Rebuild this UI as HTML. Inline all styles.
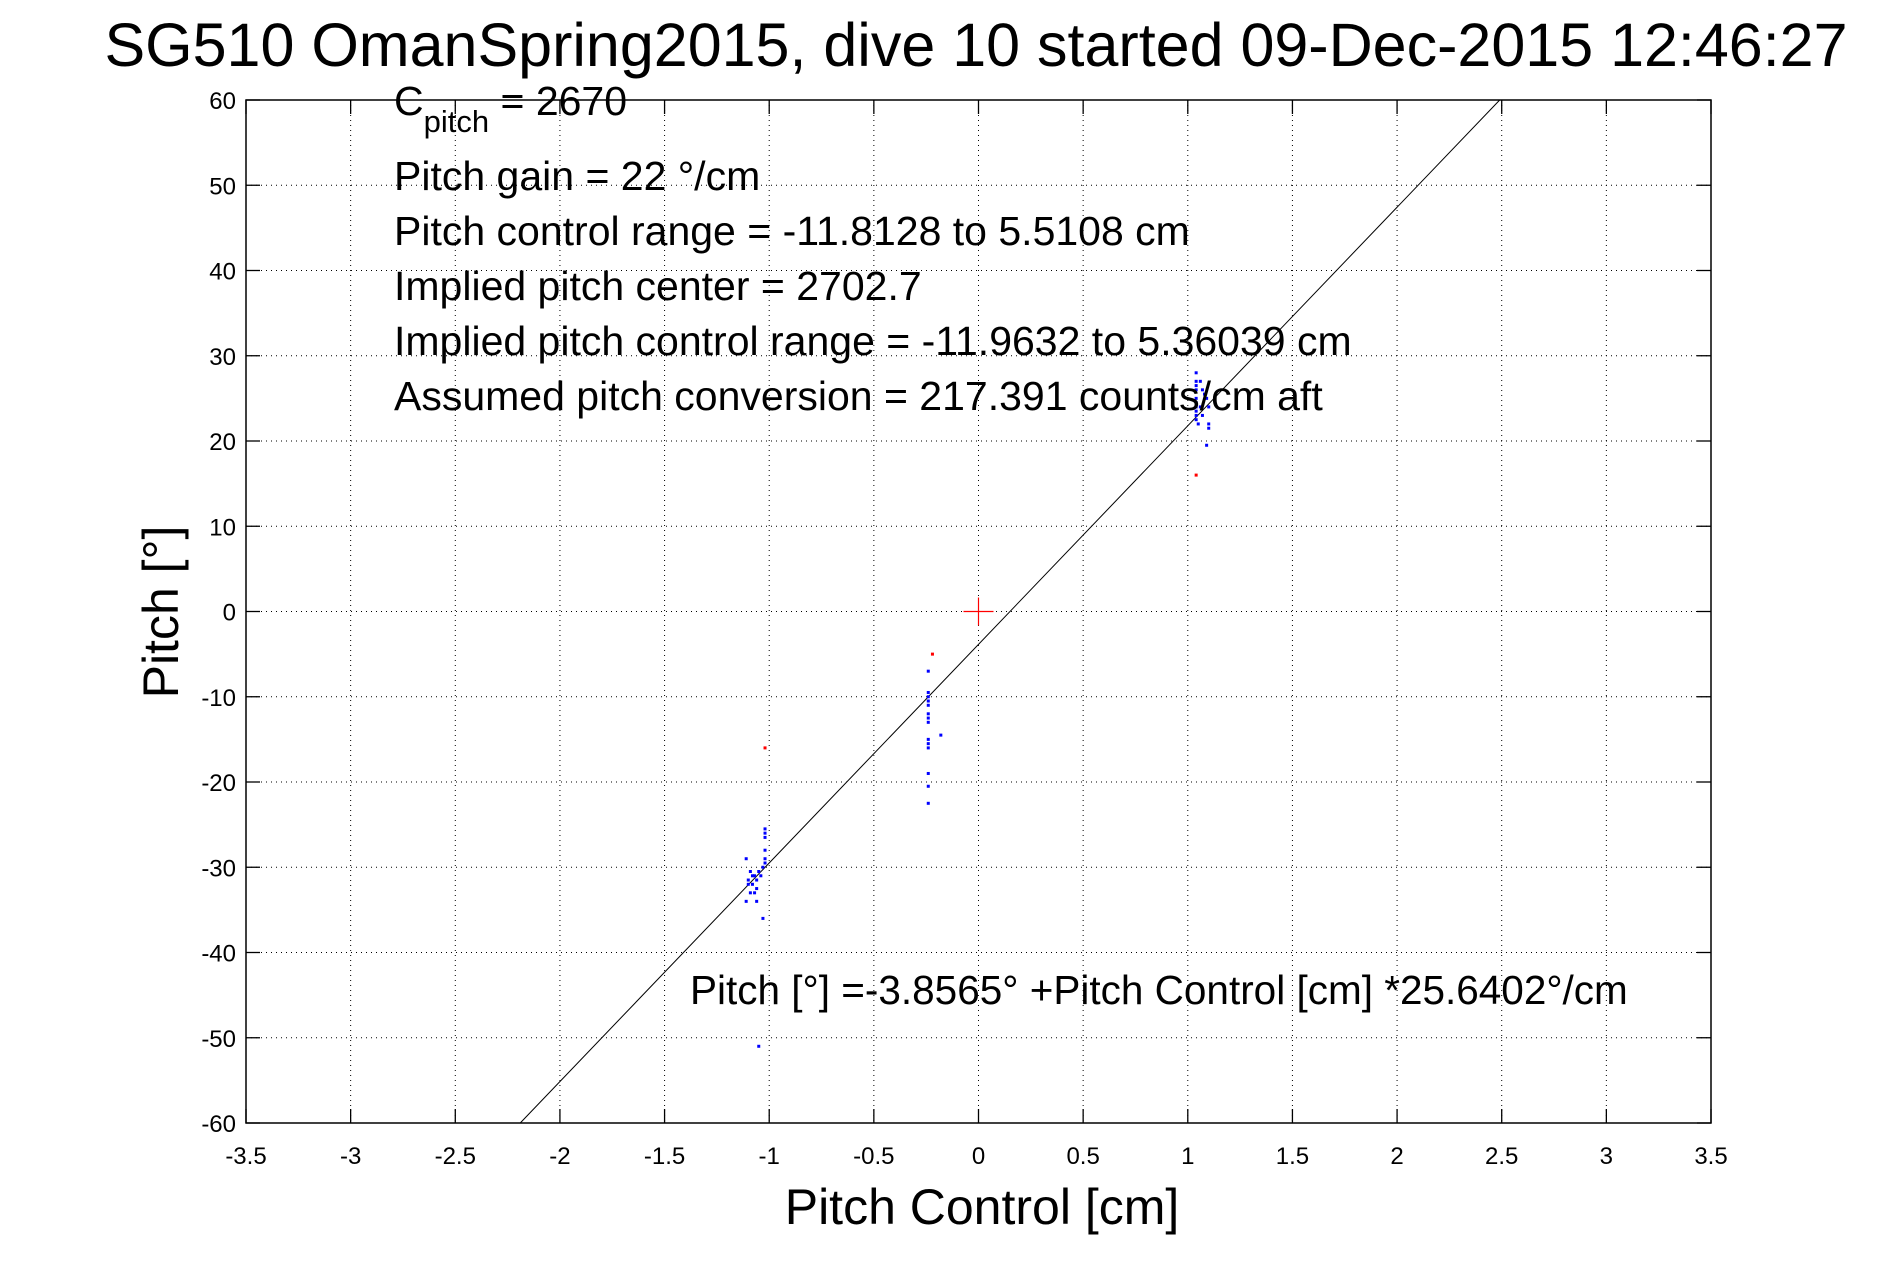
<!DOCTYPE html>
<html><head><meta charset="utf-8"><style>
body{margin:0;background:#fff;}
svg text{font-family:"Liberation Sans",sans-serif;}
</style></head><body>
<svg id="s" width="1891" height="1262" xmlns="http://www.w3.org/2000/svg">
<rect width="1891" height="1262" fill="#fff"/>
<g id="grid" stroke="#000" stroke-width="1" stroke-dasharray="1,4"></g>
<g id="ticks" stroke="#000" stroke-width="1.3"></g>
<g id="lab" font-size="24" fill="#000"></g>
<line x1="0" y1="0" x2="0" y2="0" id="fit" stroke="#000" stroke-width="1"/>
<g id="pts"></g>
<rect x="246" y="100" width="1465" height="1023" fill="none" stroke="#000" stroke-width="1.5"/>
<text x="976" y="66" font-size="61" text-anchor="middle">SG510 OmanSpring2015, dive 10 started 09-Dec-2015 12:46:27</text>
<text x="982" y="1224" font-size="50" text-anchor="middle">Pitch Control [cm]</text>
<text transform="translate(178,612) rotate(-90)" font-size="50" text-anchor="middle">Pitch [°]</text>
<g font-size="41">
<text x="394" y="115">C<tspan font-size="31" dy="17">pitch</tspan><tspan dy="-17"> = 2670</tspan></text>
<text x="394" y="190">Pitch gain = 22 °/cm</text>
<text x="394" y="245">Pitch control range = -11.8128 to 5.5108 cm</text>
<text x="394" y="300">Implied pitch center = 2702.7</text>
<text x="394" y="355">Implied pitch control range = -11.9632 to 5.36039 cm</text>
<text x="394" y="410">Assumed pitch conversion = 217.391 counts/cm aft</text>
<text x="690" y="1004" font-size="40.5">Pitch [°] =-3.8565° +Pitch Control [cm] *25.6402°/cm</text>
</g>
</svg>
<script>
var L=246,R=1711,T=100,B=1123;
function X(v){return L+(v+3.5)/7*(R-L);}
function Y(v){return T+(60-v)/120*(B-T);}
var ns="http://www.w3.org/2000/svg";
function el(p,t,a,txt){var e=document.createElementNS(ns,t);for(var k in a)e.setAttribute(k,a[k]);if(txt!=null)e.textContent=txt;document.getElementById(p).appendChild(e);return e;}
for(var i=-7;i<=7;i++){var v=i/2,x=X(v);
 if(i>-7&&i<7)el('grid','line',{x1:x,y1:T,x2:x,y2:B});
 el('ticks','line',{x1:x,y1:B,x2:x,y2:B-14});el('ticks','line',{x1:x,y1:T,x2:x,y2:T+14});
 el('lab','text',{x:x,y:B+41,'text-anchor':'middle'},String(v));}
for(var j=-6;j<=6;j++){var v=j*10,y=Y(v);
 if(j>-6&&j<6)el('grid','line',{x1:L,y1:y,x2:R,y2:y});
 el('ticks','line',{x1:L,y1:y,x2:L+14,y2:y});el('ticks','line',{x1:R,y1:y,x2:R-14,y2:y});
 el('lab','text',{x:L-10,y:y+9,'text-anchor':'end'},String(v));}
var f=document.getElementById('fit');
function fx(p){return (p+3.8565)/25.6402;}
f.setAttribute('x1',X(fx(-60)));f.setAttribute('y1',Y(-60));f.setAttribute('x2',X(fx(60)));f.setAttribute('y2',Y(60));
var blue=[[1.04,28],[1.04,27],[1.04,26.5],[1.04,26],[1.04,25],[1.04,24.5],[1.04,24],[1.04,23.5],[1.04,23],[1.04,22.5],[1.05,22],[1.06,27],[1.07,26],[1.08,25.5],[1.09,25],[1.1,24],[1.1,22],[1.1,21.5],[1.09,19.5],[1.07,23],[1.06,24],
[-0.24,-7],[-0.24,-9.5],[-0.24,-10],[-0.24,-10.5],[-0.24,-11],[-0.24,-12],[-0.24,-12.5],[-0.24,-13],[-0.24,-15],[-0.24,-15.5],[-0.24,-16],[-0.24,-19],[-0.24,-20.5],[-0.24,-22.5],[-0.18,-14.5],
[-1.02,-25.5],[-1.02,-26],[-1.02,-26.5],[-1.02,-28],[-1.02,-29],[-1.02,-29.5],[-1.03,-30],[-1.04,-31],[-1.05,-30.5],[-1.06,-31.5],[-1.06,-32.5],[-1.07,-33],[-1.08,-32],[-1.08,-31],[-1.09,-30.5],[-1.1,-31.5],[-1.1,-32],[-1.11,-29],[-1.11,-34],[-1.09,-33],[-1.07,-31],[-1.06,-34],[-1.03,-36],[-1.05,-51]];
blue.forEach(function(p){el('pts','rect',{x:X(p[0])-1.5,y:Y(p[1])-1.5,width:3,height:3,fill:'#00f'});});
[[1.04,16],[-0.22,-5],[-1.02,-16]].forEach(function(p){el('pts','rect',{x:X(p[0])-1.5,y:Y(p[1])-1.5,width:3,height:3,fill:'#f00'});});
var cx=X(0),cy=Y(0);
el('pts','line',{x1:cx-15,y1:cy,x2:cx+15,y2:cy,stroke:'#f00','stroke-width':1.2});
el('pts','line',{x1:cx,y1:cy-14,x2:cx,y2:cy+14,stroke:'#f00','stroke-width':1.2});
</script>
</body></html>
